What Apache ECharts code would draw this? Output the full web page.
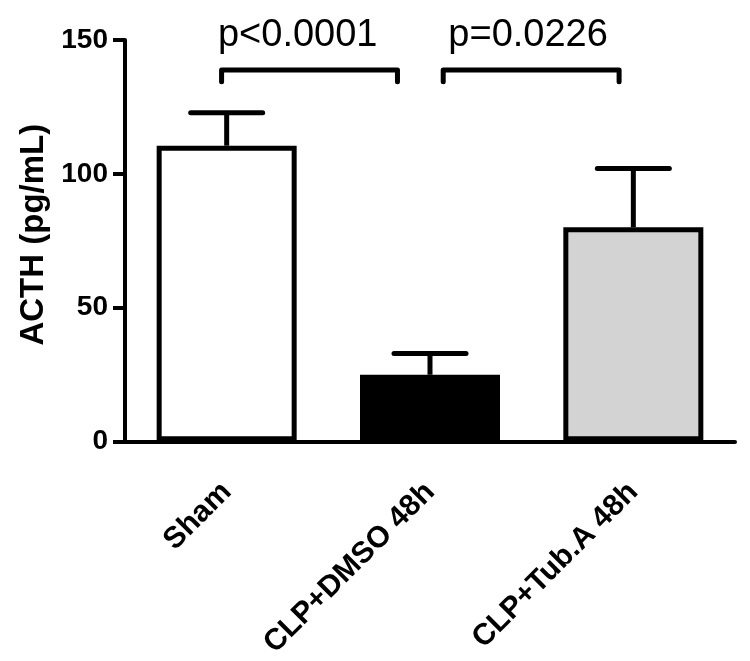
<!DOCTYPE html>
<html><head><meta charset="utf-8">
<script src="https://cdn.jsdelivr.net/npm/echarts@6/dist/echarts.min.js"></script>
<style>html,body{margin:0;padding:0;background:#fff}#c{width:750px;height:661px}</style>
</head><body><div id="c"></div>
<script>
const categories = ['Sham', 'CLP+DMSO 48h', 'CLP+Tub.A 48h'];
const means = [110.5, 24.9, 80.0];
const errTop = [122.8, 32.8, 102.0];
const barColors = ['#ffffff', '#000000', '#d3d3d3'];
const yTicks = [0, 50, 100, 150];
const pLabels = ['p<0.0001', 'p=0.0226'];
const bracketFrom = [-0.025, 1.065];
const bracketTo = [0.84, 1.93];
const bracketTop = [138.8, 138.8];
const bracketLeg = [134.4, 134.4];
const pLabelX = [-0.043, 1.09];
const pLabelY = [144.6, 144.6];

const FONT = '"Liberation Sans", Arial, sans-serif';
const chart = echarts.init(document.getElementById('c'), null, {renderer: 'canvas'});

const errData = means.map((m, i) => [i, m, errTop[i]]);
const bracketData = pLabels.map((p, i) => [bracketFrom[i], bracketTo[i], bracketTop[i], bracketLeg[i], pLabelX[i], pLabelY[i], i]);

chart.setOption({
  animation: false,
  backgroundColor: '#fff',
  grid: {left: 125, right: 15, top: 40, bottom: 218, containLabel: false},
  xAxis: [{
    type: 'category', data: categories, boundaryGap: true,
    axisLine: {lineStyle: {color: '#000', width: 4}},
    axisTick: {alignWithLabel: true, length: 12, lineStyle: {color: '#000', width: 3}},
    axisLabel: {rotate: 45, margin: 46, color: '#000', fontSize: 30, fontWeight: 'bold', fontFamily: FONT, interval: 0},
    splitLine: {show: false}
  }, {
    type: 'value', min: -0.5, max: 2.5, show: false
  }],
  yAxis: {
    type: 'value', min: yTicks[0], max: yTicks[yTicks.length - 1], interval: yTicks[1] - yTicks[0],
    name: 'ACTH (pg/mL)', nameLocation: 'middle', nameRotate: 90, nameGap: 63,
    nameTextStyle: {color: '#000', fontSize: 33, fontWeight: 'bold', fontFamily: FONT, padding: [0, 0, 0, 12]},
    axisLine: {show: true, onZero: false, lineStyle: {color: '#000', width: 4}},
    axisTick: {show: true, length: 12, lineStyle: {color: '#000', width: 4}},
    axisLabel: {margin: 17, color: '#000', fontSize: 28, fontWeight: 'bold', fontFamily: FONT},
    splitLine: {show: false}
  },
  series: [{
    type: 'bar', xAxisIndex: 0, barWidth: 140, z: 2,
    data: means.map((v, i) => ({value: v, itemStyle: {color: barColors[i], borderColor: '#000', borderWidth: 5}}))
  }, {
    type: 'custom', xAxisIndex: 1, yAxisIndex: 0, z: 3, clip: false,
    data: errData,
    renderItem: function (params, api) {
      const x = api.value(0);
      const base = api.coord([x, api.value(1)]);
      const top = api.coord([x, api.value(2)]);
      const hw = 36;
      return {type: 'group', children: [
        {type: 'line', shape: {x1: base[0], y1: base[1], x2: top[0], y2: top[1]}, style: {stroke: '#000', lineWidth: 5}},
        {type: 'line', shape: {x1: top[0] - hw, y1: top[1], x2: top[0] + hw, y2: top[1]}, style: {stroke: '#000', lineWidth: 5, lineCap: 'round'}}
      ]};
    }
  }, {
    type: 'custom', xAxisIndex: 1, yAxisIndex: 0, z: 4, clip: false,
    data: bracketData,
    renderItem: function (params, api) {
      const a = api.coord([api.value(0), api.value(2)]);
      const b = api.coord([api.value(1), api.value(2)]);
      const leg = api.coord([api.value(0), api.value(3)]);
      const t = api.coord([api.value(4), api.value(5)]);
      const idx = api.value(6);
      return {type: 'group', children: [
        {type: 'polyline', shape: {points: [[a[0], leg[1]], [a[0], a[1]], [b[0], b[1]], [b[0], leg[1]]]},
          style: {stroke: '#000', lineWidth: 5, fill: null, lineCap: 'round', lineJoin: 'round'}},
        {type: 'text', x: t[0], y: t[1], style: {text: pLabels[idx], fill: '#000', font: '38px ' + FONT, textAlign: 'left', textVerticalAlign: 'bottom'}}
      ]};
    }
  }]
});
</script></body></html>
